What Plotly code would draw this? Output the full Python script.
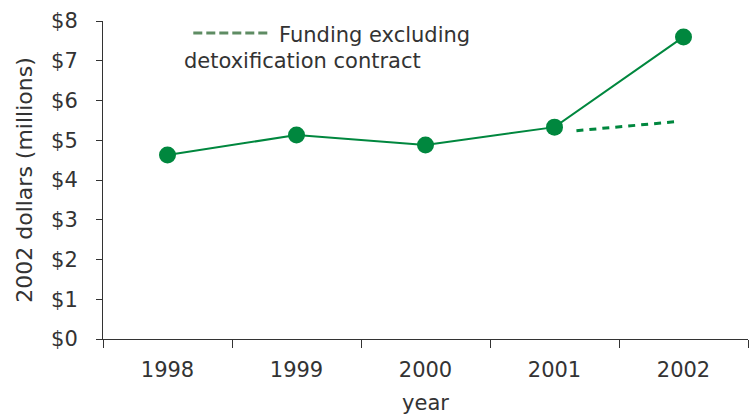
import plotly.graph_objects as go

years = ["1998", "1999", "2000", "2001", "2002"]
funding = [4.63, 5.13, 4.88, 5.33, 7.60]
excl_x = [3.17, 3.95]
excl_y = [5.24, 5.47]
y_ticks = [0, 1, 2, 3, 4, 5, 6, 7, 8]
y_labels = ["$" + str(v) for v in y_ticks]

GREEN = "#00873E"
TXT = "#333333"
FONT = "DejaVu Sans"

fig = go.Figure()
fig.add_trace(go.Scatter(x=list(range(len(years))), y=funding, mode="lines+markers",
                         line=dict(color=GREEN, width=2),
                         marker=dict(color=GREEN, size=17), showlegend=False))
fig.add_trace(go.Scatter(x=excl_x, y=excl_y, mode="lines",
                         line=dict(color=GREEN, width=3, dash="7px,6px"), showlegend=False))

# legend-like annotation
fig.add_shape(type="line", x0=0.2, x1=0.8, y0=7.7, y1=7.7, xref="x", yref="y",
              line=dict(color="#5E8C63", width=3, dash="9px,4px"))
fig.add_annotation(x=0.85, y=7.66, xref="x", yref="y", text="Funding excluding",
                   showarrow=False, xanchor="left", yanchor="middle",
                   font=dict(family=FONT, size=21, color=TXT))
fig.add_annotation(x=0.11, y=7.0, xref="x", yref="y", text="detoxification contract",
                   showarrow=False, xanchor="left", yanchor="middle",
                   font=dict(family=FONT, size=21, color=TXT))

fig.update_layout(
    width=749, height=415,
    margin=dict(l=103, r=1, t=21, b=76),
    plot_bgcolor="white", paper_bgcolor="white",
    font=dict(family=FONT, size=21, color=TXT),
    xaxis=dict(range=[-0.5, 4.5], tickvals=list(range(len(years))), ticktext=years,
               ticks="", showgrid=False, zeroline=False,
               showline=True, linecolor="#333333", linewidth=1,
               minor=dict(tick0=-0.5, dtick=1, ticks="outside", ticklen=8,
                          tickcolor="#333333", showgrid=False),
               ticklabelstandoff=12,
               title=dict(text="year", standoff=17, font=dict(size=21)),
               tickfont=dict(size=21)),
    yaxis=dict(range=[0, 8], tickvals=y_ticks, ticktext=y_labels,
               ticks="outside", ticklen=6, tickcolor="#333333",
               showgrid=False, zeroline=False,
               showline=True, linecolor="#333333", linewidth=1,
               ticklabelstandoff=14,
               title=dict(text="2002 dollars (millions)", standoff=12, font=dict(size=22)),
               tickfont=dict(size=21)),
)

fig.write_html("out.html")
